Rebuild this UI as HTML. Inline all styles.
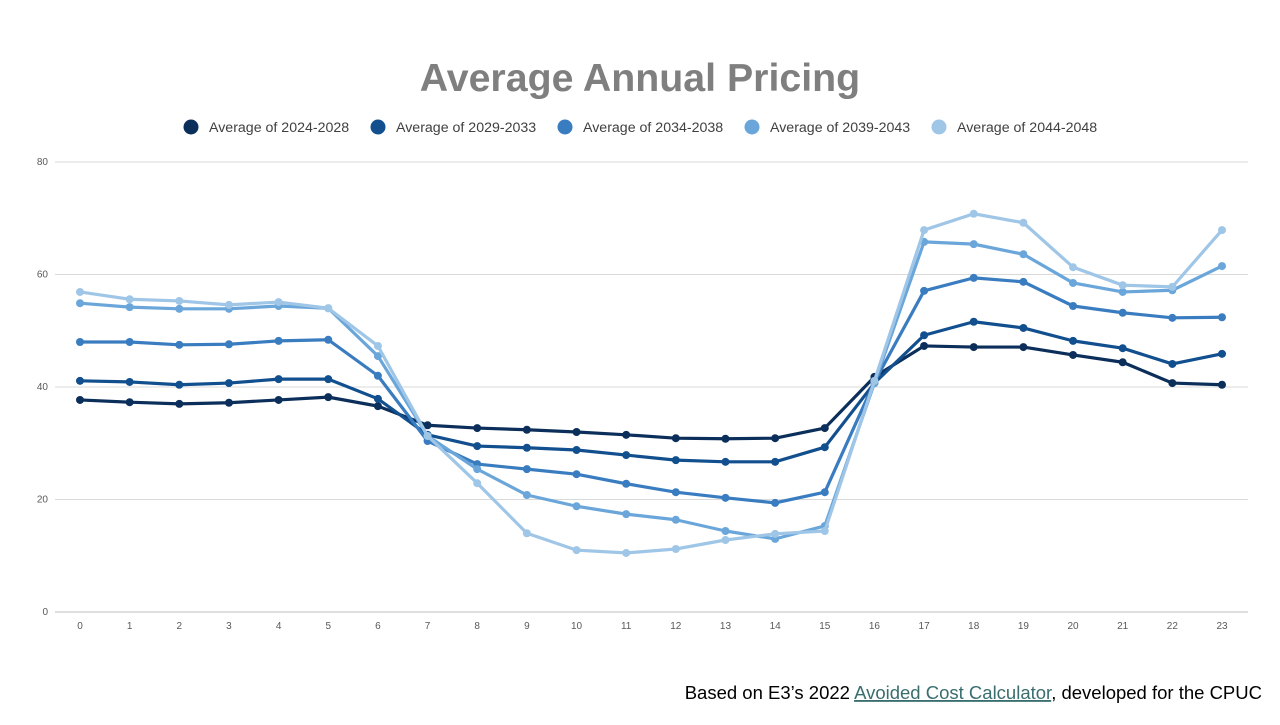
<!DOCTYPE html>
<html><head><meta charset="utf-8"><style>
body{margin:0;background:#fff;width:1280px;height:720px;overflow:hidden;font-family:"Liberation Sans",sans-serif}
</style></head><body>
<svg width="1280" height="720" id="chart">
<text x="640" y="91" text-anchor="middle" font-size="39.3" font-weight="bold" fill="#7f7f7f">Average Annual Pricing</text>
<g id="legend"></g>
<g id="grid"></g>
<g id="series"></g>
<text x="1262" y="699" text-anchor="end" font-size="18.5" fill="#000">Based on E3’s 2022 <tspan fill="#3a6e6e" text-decoration="underline">Avoided Cost Calculator</tspan>, developed for the CPUC</text>
</svg>
<script>
const hours=[0,1,2,3,4,5,6,7,8,9,10,11,12,13,14,15,16,17,18,19,20,21,22,23];
const yTicks=[0,20,40,60,80];
const seriesNames=["Average of 2024-2028","Average of 2029-2033","Average of 2034-2038","Average of 2039-2043","Average of 2044-2048"];
const s2024=[37.7,37.3,37.0,37.2,37.7,38.2,36.6,33.2,32.7,32.4,32.0,31.5,30.9,30.8,30.9,32.7,41.8,47.3,47.1,47.1,45.7,44.4,40.7,40.4];
const s2029=[41.1,40.9,40.4,40.7,41.4,41.4,37.9,31.5,29.5,29.2,28.8,27.9,27.0,26.7,26.7,29.3,40.7,49.2,51.6,50.5,48.2,46.9,44.1,45.9];
const s2034=[48.0,48.0,47.5,47.6,48.2,48.4,42.0,30.4,26.3,25.4,24.5,22.8,21.3,20.3,19.4,21.3,40.9,57.1,59.4,58.7,54.4,53.2,52.3,52.4];
const s2039=[54.9,54.2,53.9,53.9,54.4,54.0,45.5,31.3,25.4,20.8,18.8,17.4,16.4,14.4,13.0,15.3,40.7,65.8,65.4,63.6,58.5,56.9,57.2,61.5];
const s2044=[56.9,55.6,55.3,54.6,55.1,54.0,47.3,31.3,22.9,14.0,11.0,10.5,11.2,12.8,13.9,14.4,41.1,67.9,70.8,69.2,61.3,58.1,57.8,67.9];
const allSeries=[s2024,s2029,s2034,s2039,s2044];
const colors=["#0b2f5a","#114f8e","#3a7cc0","#6aa6da","#9fc6e7"];
const NS="http://www.w3.org/2000/svg";
const x=h=>80+h*(1142/23);
const y=v=>612-v*450/80;
function mk(tag,attrs,parent){const e=document.createElementNS(NS,tag);for(const k in attrs)e.setAttribute(k,attrs[k]);parent.appendChild(e);return e;}
const grid=document.getElementById('grid');
yTicks.forEach(t=>{
 const l=mk('line',{x1:55,x2:1248,y1:y(t),y2:y(t),stroke:t===0?'#bfbfbf':'#d9d9d9','stroke-width':1},grid);
 
 
 const tx=mk('text',{x:48,y:y(t)+3,'text-anchor':'end','font-size':10,fill:'#595959'},grid);
 tx.textContent=t;
 
 
});
hours.forEach(h=>{
 const tx=mk('text',{x:x(h),y:629,'text-anchor':'middle','font-size':10,fill:'#595959'},grid);
 tx.textContent=h;
 
 
});
const sg=document.getElementById('series');
allSeries.forEach((s,i)=>{
 const g=mk('g',{},sg);
 
 
 const p=mk('polyline',{points:s.map((v,j)=>x(hours[j])+','+y(v)).join(' '),fill:'none',stroke:colors[i],'stroke-width':3.2,'stroke-linejoin':'round'},g);
 
 
 s.forEach((v,j)=>{
  const c=mk('circle',{cx:x(hours[j]),cy:y(v),r:4,fill:colors[i]},g);
  
  
 });
});
const lg=document.getElementById('legend');
const lx=[191,378,565,752,939];
seriesNames.forEach((n,i)=>{
 const g=mk('g',{},lg);
 
 
 mk('circle',{cx:lx[i],cy:127,r:7.5,fill:colors[i]},g);
 const t=mk('text',{x:lx[i]+18,y:132,'font-size':14.2,fill:'#404040'},g);
 t.textContent=n;
});
</script>
</body></html>
